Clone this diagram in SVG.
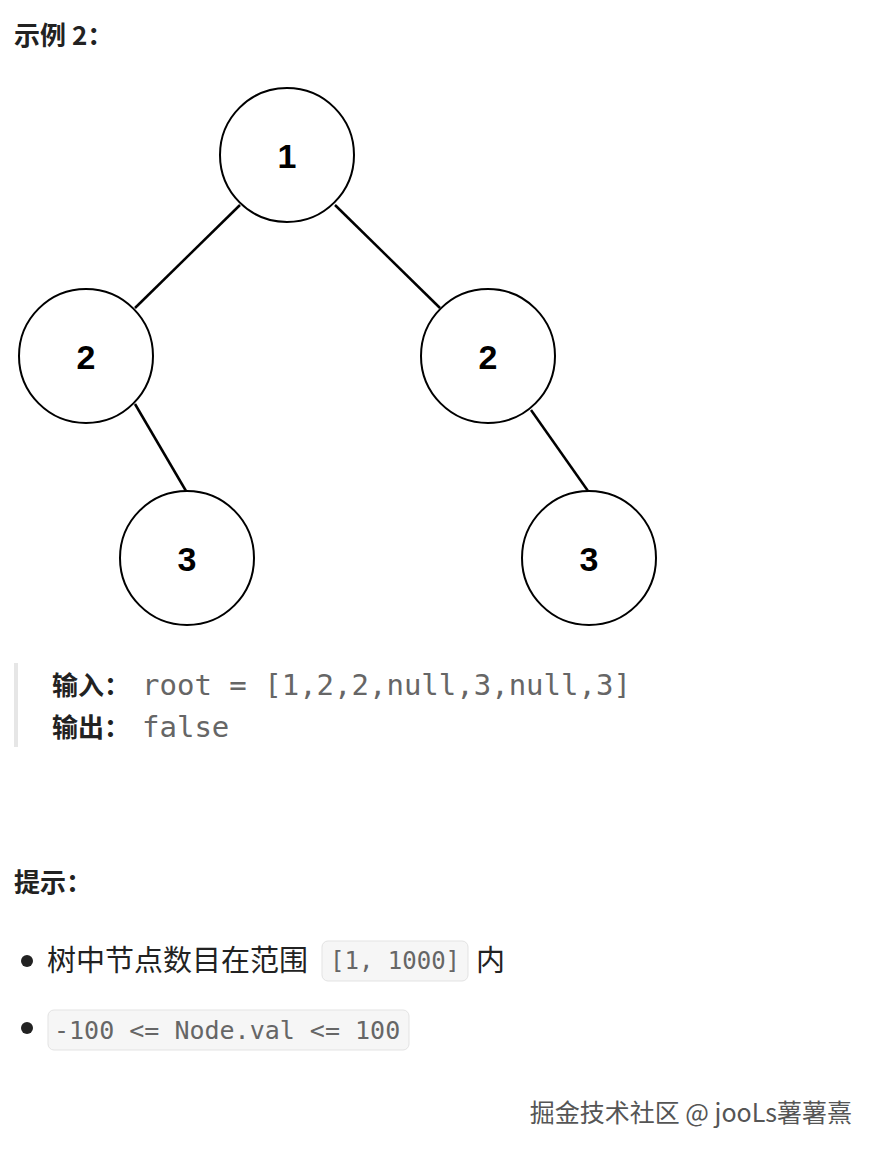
<svg xmlns="http://www.w3.org/2000/svg" width="881" height="1157" viewBox="0 0 881 1157">
<style>
.h{font-family:"Noto Sans CJK SC","Noto Sans",sans-serif;font-weight:bold;font-size:26px;fill:#222}
.n circle{fill:#fff;stroke:#000;stroke-width:2}
.n text{font-family:"Liberation Sans",Arial,sans-serif;font-weight:bold;font-size:34px;text-anchor:middle;fill:#000}
.m{font-family:"DejaVu Sans Mono",monospace;fill:#666}
.c{font-family:"Noto Sans CJK SC",sans-serif;font-size:29px;fill:#222}
.code{fill:#f6f6f6;stroke:#e3e3e3;stroke-width:1}
</style>
<rect width="881" height="1157" fill="#fff"/>
<text class="h" x="14" y="45">示例 2：</text>
<g id="edges" stroke="#000" stroke-width="2.5">
<line x1="240" y1="205" x2="135" y2="308"/>
<line x1="335" y1="205" x2="440" y2="308"/>
<line x1="135" y1="404" x2="186" y2="491"/>
<line x1="531" y1="410" x2="588" y2="491"/>
</g>
<g id="n1" class="n"><circle cx="287" cy="155" r="67"/><text x="287" y="168">1</text></g>
<g id="n2" class="n"><circle cx="86" cy="356" r="67"/><text x="86" y="369">2</text></g>
<g id="n3" class="n"><circle cx="488" cy="356" r="67"/><text x="488" y="369">2</text></g>
<g id="n4" class="n"><circle cx="187" cy="558" r="67"/><text x="187" y="571">3</text></g>
<g id="n5" class="n"><circle cx="589" cy="558" r="67"/><text x="589" y="571">3</text></g>
<rect x="14" y="663" width="4" height="84" fill="#e6e6e6"/>
<text x="52" y="695" class="h" font-size="27">输入：</text>
<text x="142" y="695" class="m" font-size="29">root = [1,2,2,null,3,null,3]</text>
<text x="52" y="737" class="h" font-size="27">输出：</text>
<text x="142" y="737" class="m" font-size="29">false</text>
<text class="h" x="14" y="892">提示：</text>
<circle cx="27" cy="961" r="6" fill="#222"/>
<text class="c" x="47" y="971">树中节点数目在范围</text>
<rect class="code" x="322" y="941" width="146" height="40" rx="6"/>
<text class="m" x="330" y="969" font-size="24">[1, 1000]</text>
<text class="c" x="476" y="971">内</text>
<circle cx="27" cy="1028" r="6" fill="#222"/>
<rect class="code" x="48" y="1010" width="361" height="40" rx="6"/>
<text class="m" x="54" y="1039" font-size="25" fill="#555">-100 &lt;= Node.val &lt;= 100</text>
<text x="852" y="1122" text-anchor="end" font-family="Noto Sans CJK SC,sans-serif" font-size="25" fill="#555">掘金技术社区 @ jooLs薯薯熹</text>
</svg>
